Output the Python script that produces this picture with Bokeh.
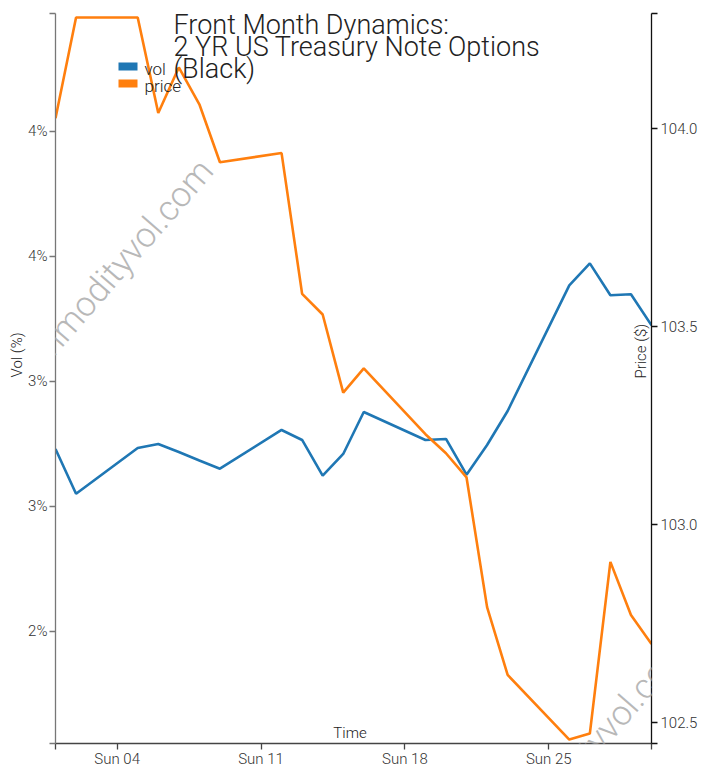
import math
import pandas as pd
from bokeh.plotting import figure
from bokeh.models import (Range1d, LinearAxis, FixedTicker, CustomJSTickFormatter,
                          Label, BoxAnnotation, Title)
from bokeh.embed import file_html
from bokeh.resources import INLINE

# ---------------- data ----------------
dates = ["2022-09-01", "2022-09-02", "2022-09-05", "2022-09-06", "2022-09-07",
         "2022-09-08", "2022-09-09", "2022-09-12", "2022-09-13", "2022-09-14",
         "2022-09-15", "2022-09-16", "2022-09-19", "2022-09-20", "2022-09-21",
         "2022-09-22", "2022-09-23", "2022-09-26", "2022-09-27", "2022-09-28",
         "2022-09-29", "2022-09-30"]
vol = [2.729, 2.550, 2.733, 2.749, 2.717, 2.683, 2.650, 2.805, 2.765, 2.622,
       2.709, 2.877, 2.765, 2.769, 2.626, 2.745, 2.881, 3.384, 3.472, 3.344,
       3.348, 3.224]
price = [104.025, 104.279, 104.279, 104.038, 104.153, 104.060, 103.914, 103.937,
         103.582, 103.530, 103.333, 103.394, 103.228, 103.180, 103.119, 102.792,
         102.621, 102.458, 102.473, 102.906, 102.772, 102.699]

x_tick_dates = ["2022-09-04", "2022-09-11", "2022-09-18", "2022-09-25"]
x_tick_labels = ["Sun 04", "Sun 11", "Sun 18", "Sun 25"]
vol_ticks = [2.0, 2.5, 3.0, 3.5, 4.0]
vol_tick_labels = ["2%", "3%", "3%", "4%", "4%"]
price_ticks = [102.5, 103.0, 103.5, 104.0]
price_tick_labels = ["102.5", "103.0", "103.5", "104.0"]

title_lines = ["Front Month Dynamics:", "2 YR US Treasury Note Options", "(Black)"]
series_names = ["vol", "price"]
series_colors = ["#1f77b4", "#ff7f0e"]

FONT = "Roboto Light"
TXT = "#333333"

def ms(d):
    return pd.Timestamp(d).value / 1e6

xs = [ms(d) for d in dates]
x_ticks = [ms(d) for d in x_tick_dates]

vol_lo, vol_hi = min(vol) - 1.0, max(vol) + 1.0
pr_lo, pr_hi = min(price) - 0.01, max(price) + 0.01

p = figure(width=711, height=770, x_axis_type="datetime",
           x_range=Range1d(xs[0], xs[-1]), y_range=Range1d(vol_lo, vol_hi),
           output_backend="svg", toolbar_location=None,
           min_border_left=55, min_border_right=60, min_border_top=13,
           min_border_bottom=26)
p.extra_y_ranges = {"price": Range1d(pr_lo, pr_hi)}
p.outline_line_color = None
p.grid.visible = False
p.background_fill_color = "white"
p.border_fill_color = "white"

code = """
for (let i = 0; i < tv.length; i++) {
  if (Math.abs(tv[i] - tick) < tol) return tl[i];
}
return "";
"""

def style_axis(ax, color, standoff):
    ax.major_tick_in = 0
    ax.major_tick_out = 6
    ax.minor_tick_in = 0
    ax.minor_tick_out = 0
    ax.axis_line_color = color
    ax.major_tick_line_color = color
    ax.axis_line_width = 1.3
    ax.major_tick_line_width = 1.3
    ax.major_label_text_font = FONT
    ax.major_label_text_font_size = "15px"
    ax.major_label_text_color = TXT
    ax.major_label_standoff = standoff

# bottom (time) axis
xa = p.xaxis[0]
xa.ticker = FixedTicker(ticks=[xs[0]] + x_ticks + [xs[-1]])
xa.formatter = CustomJSTickFormatter(args=dict(tv=x_ticks, tl=x_tick_labels, tol=1000.0), code=code)
style_axis(xa, "#444444", 0)

# left (vol) axis
ya = p.yaxis[0]
ya.ticker = FixedTicker(ticks=[vol_lo] + vol_ticks + [vol_hi])
ya.formatter = CustomJSTickFormatter(args=dict(tv=vol_ticks, tl=vol_tick_labels, tol=1e-6), code=code)
style_axis(ya, "#777777", 2)

# right (price) axis
ra = LinearAxis(y_range_name="price",
                ticker=FixedTicker(ticks=[pr_lo] + price_ticks + [pr_hi]),
                formatter=CustomJSTickFormatter(args=dict(tv=price_ticks, tl=price_tick_labels, tol=1e-6), code=code))
style_axis(ra, "#111111", 3)
p.add_layout(ra, "right")

# left axis title (outside the frame)
p.add_layout(Title(text="Vol (%)", align="left", offset=366, standoff=0,
                   vertical_align="bottom",
                   text_font=FONT, text_font_size="15px", text_font_style="normal",
                   text_color="#222222"), "left")

# series
p.line(xs, vol, color=series_colors[0], line_width=2.6)
p.line(xs, price, color=series_colors[1], line_width=2.6, y_range_name="price")

# watermark
for (wx, wy) in [(151, 579), (627, 101)]:
    p.add_layout(Label(x=wx, y=wy, x_units="screen", y_units="screen",
                       text="www.commodityvol.com", angle=0.855,
                       text_align="right", text_baseline="alphabetic",
                       text_font=FONT, text_font_size="35px",
                       text_color="#b8b8b8"))

# title
for i, line in enumerate(title_lines):
    p.add_layout(Label(x=118, y=719 - 22 * i, x_units="screen", y_units="screen",
                       text=line, text_font=FONT, text_font_size="27px",
                       text_color="#222222", text_baseline="alphabetic"))

# legend
for i, (name, col) in enumerate(zip(series_names, series_colors)):
    top = 681 - 17 * i
    p.add_layout(BoxAnnotation(left=63, right=82, top=top, bottom=top - 8,
                               left_units="screen", right_units="screen",
                               top_units="screen", bottom_units="screen",
                               fill_color=col, fill_alpha=1.0, line_color=None))
    p.add_layout(Label(x=89, y=top - 6, x_units="screen", y_units="screen",
                       text=name, text_font=FONT, text_font_size="17px",
                       text_color="#222222", text_baseline="alphabetic"))

# axis titles inside the frame
p.add_layout(Label(x=585.8, y=392.3, x_units="screen", y_units="screen",
                   text="Price ($)", angle=math.pi / 2, text_align="center",
                   text_baseline="middle", text_font=FONT, text_font_size="15px",
                   text_color="#222222"))
p.add_layout(Label(x=294.5, y=10.5, x_units="screen", y_units="screen",
                   text="Time", text_align="center", text_baseline="alphabetic",
                   text_font=FONT, text_font_size="15px", text_color="#222222"))

open("out.html", "w").write(file_html(p, INLINE))
